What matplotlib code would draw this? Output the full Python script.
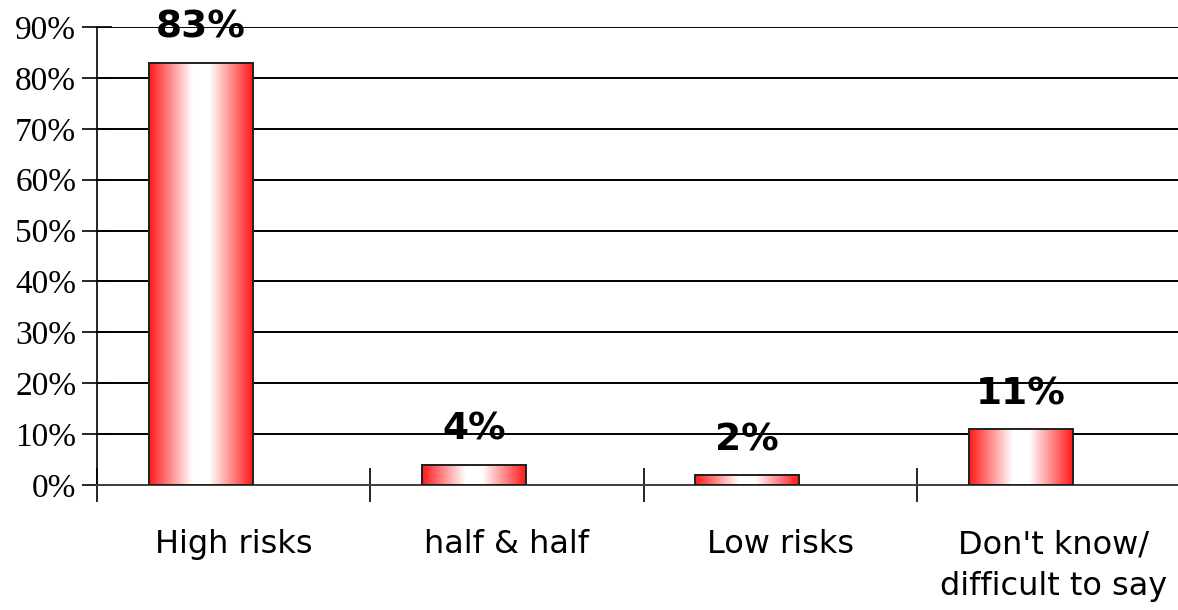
import numpy as np
import matplotlib
matplotlib.use("Agg")
import matplotlib.pyplot as plt
from matplotlib.colors import LinearSegmentedColormap
from matplotlib.ticker import MultipleLocator, FuncFormatter

# survey answers
categories = ["High risks", "half & half", "Low risks", "Don't know/\ndifficult to say"]
shares = [83, 4, 2, 11]
yticks = [0, 10, 20, 30, 40, 50, 60, 70, 80, 90]

W, H = 1178, 610
fig = plt.figure(figsize=(W / 100, H / 100), dpi=100)
# axes run a little past the right edge of the figure
ax = fig.add_axes([97 / W, (H - 485) / H, (1190 - 97) / W, (485 - 27) / H])

x = np.arange(len(categories))
bar_off = -0.12
bar_w = 0.38

# grid
ax.set_axisbelow(True)
ax.yaxis.set_major_locator(MultipleLocator(10))
ax.grid(True, axis="y", color="black", linewidth=1.4)
ax.grid(False, axis="x")

bars = ax.bar(x + bar_off, shares, width=bar_w, facecolor="none",
              edgecolor="#202020", linewidth=1.4, zorder=3)

# red-white-red gradient inside each bar
cmap = LinearSegmentedColormap.from_list(
    "redwhite", [(0.0, "#ff1a1a"), (0.42, "#ffffff"), (0.58, "#ffffff"), (1.0, "#ff1a1a")])
grad = np.linspace(0, 1, 256).reshape(1, -1)
for b in bars:
    x0, w, h = b.get_x(), b.get_width(), b.get_height()
    ax.imshow(grad, cmap=cmap, aspect="auto", extent=(x0, x0 + w, 0, h),
              zorder=2, interpolation="bilinear")
    ax.annotate(f"{h:.0f}%", (x0 + w / 2, h), xytext=(0, 25),
                textcoords="offset points", ha="center", va="center",
                fontsize=27, fontweight="bold", family="DejaVu Sans",
                annotation_clip=False)
ax.set_xlim(-0.5, len(categories) - 0.5)
ax.set_ylim(0, 90)

# axes and ticks
for s in ["top", "right"]:
    ax.spines[s].set_visible(False)
ax.spines["left"].set_linewidth(1.2)
ax.spines["bottom"].set_linewidth(1.4)
ax.spines["bottom"].set_color("#404040")

ax.set_yticks(yticks)
ax.yaxis.set_major_formatter(FuncFormatter(lambda v, i: f"{v:.0f}%"))
ax.tick_params(axis="y", direction="inout", length=22, width=1.2, pad=4,
               labelsize=24)
for t in ax.get_yticklabels():
    t.set_family("Liberation Serif")

ax.set_xticks(np.arange(len(categories) + 1) - 0.5, minor=True)
ax.set_xticks(x)
ax.set_xticklabels(categories, fontsize=23, family="DejaVu Sans",
                   linespacing=1.45, va="top")
ax.tick_params(axis="x", which="major", length=0, pad=32)
ax.tick_params(axis="x", which="minor", direction="inout", length=24, width=1.2)

fig.savefig("out.png", dpi=100)
